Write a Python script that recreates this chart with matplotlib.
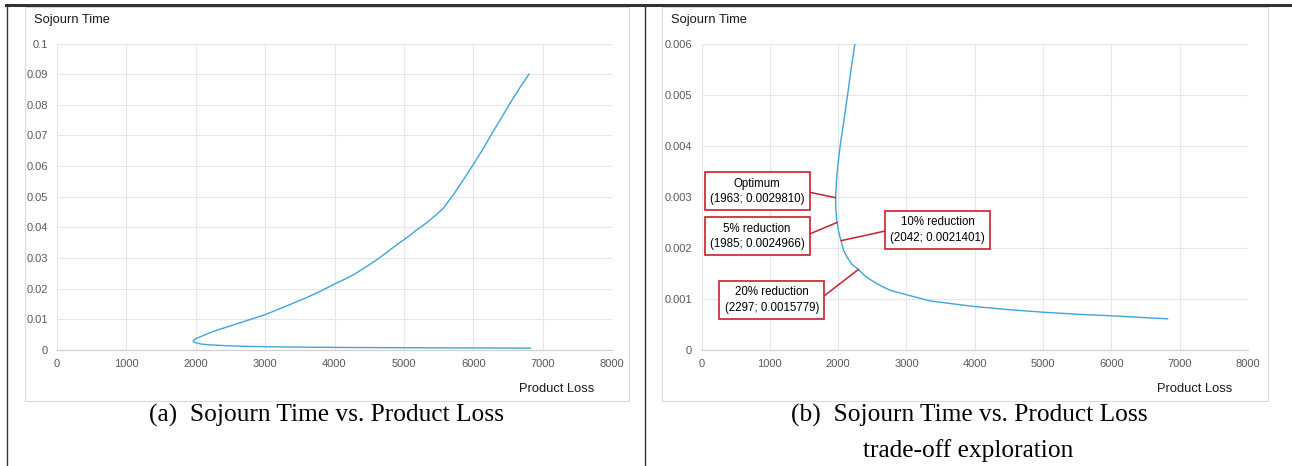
import matplotlib.pyplot as plt
from matplotlib.lines import Line2D
from matplotlib.patches import Rectangle

# curve, from the upper end, round the nose, to the lower end
product_loss = [6803, 6670, 6529, 6400, 6265, 6130, 5986, 5856, 5712, 5568, 5470, 5376,
                5280, 5184, 5088, 4896, 4750, 4608, 4440, 4271, 4130, 3997, 3800, 3599,
                3300, 3008, 2750, 2493, 2350, 2247, 2190, 2139, 2075, 2030, 1995, 1975,
                1963, 1967, 1978, 1985, 2010, 2042, 2080, 2125, 2200, 2297, 2400, 2516,
                2620, 2761, 3006, 3348, 3642, 4002, 4500, 4997, 5500, 5992, 6400, 6823]
sojourn_time = [0.0900, 0.0855, 0.0805, 0.0755, 0.0705, 0.0652, 0.0600, 0.0555, 0.0506,
                0.0462, 0.0442, 0.0424, 0.0407, 0.0392, 0.0374, 0.0343, 0.0318, 0.0294,
                0.0269, 0.0245, 0.0229, 0.0215, 0.0192, 0.0171, 0.0143, 0.0116, 0.0097,
                0.0078, 0.0068, 0.0060, 0.0055, 0.0050, 0.0044, 0.0040, 0.0036, 0.0033,
                0.0029810, 0.00275, 0.00256, 0.0024966, 0.0023, 0.0021401, 0.00195,
                0.00183, 0.00168, 0.0015779, 0.00144, 0.00134, 0.00126, 0.00117,
                0.00108, 0.00096, 0.00091, 0.00085, 0.00079, 0.00074, 0.00070, 0.00067,
                0.00064, 0.00061]

x_ticks = [0, 1000, 2000, 3000, 4000, 5000, 6000, 7000, 8000]
y_ticks_a = [0, 0.01, 0.02, 0.03, 0.04, 0.05, 0.06, 0.07, 0.08, 0.09, 0.1]
y_labels_a = ['0', '0.01', '0.02', '0.03', '0.04', '0.05', '0.06', '0.07', '0.08', '0.09', '0.1']
y_ticks_b = [0, 0.001, 0.002, 0.003, 0.004, 0.005, 0.006]
y_labels_b = ['0', '0.001', '0.002', '0.003', '0.004', '0.005', '0.006']

note_names = ['Optimum', '5% reduction', '10% reduction', '20% reduction']
note_x = [1963, 1985, 2042, 2297]
note_y = [0.0029810, 0.0024966, 0.0021401, 0.0015779]
# box centres (data units) and where the leader leaves the box
note_box = [(815, 0.00311), (815, 0.00223), (3455, 0.00235), (1028, 0.00098)]
note_rel = [(1, 0.5), (1, 0.5), (0, 0.5), (1, 0.5)]

W, H = 1292, 466
BLUE = '#3DA5DD'
RED = '#C8202C'
GRID = '#E6E6E6'
TICK = '#595959'

plt.rcParams['font.family'] = ['Liberation Sans', 'DejaVu Sans']

fig = plt.figure(figsize=(W / 100, H / 100), dpi=100)


def fx(px):
    return px / W


def fy(py):
    return 1 - py / H


# page frame lines and chart boxes
fig.add_artist(Line2D([fx(6), 1], [fy(5), fy(5)], color='#333333', lw=2.2))
fig.add_artist(Line2D([fx(7), fx(7)], [0, fy(5)], color='#333333', lw=1.0))
fig.add_artist(Line2D([fx(645), fx(645)], [0, fy(5)], color='#333333', lw=1.0))
for x0, x1 in [(25, 629), (662, 1268)]:
    fig.add_artist(Rectangle((fx(x0), fy(401)), fx(x1 - x0), (401 - 7) / H,
                             fill=False, ec='#DADADA', lw=0.8))


def style(ax, yt, yl, ymax):
    ax.set_xlim(0, 8000)
    ax.set_ylim(0, ymax)
    ax.set_xticks(x_ticks)
    ax.set_xticklabels([str(v) for v in x_ticks])
    ax.set_yticks(yt)
    ax.set_yticklabels(yl)
    ax.grid(True, color=GRID, lw=0.8)
    ax.set_axisbelow(True)
    for s in ['top', 'right', 'left']:
        ax.spines[s].set_visible(False)
    ax.spines['bottom'].set_color('#D0D0D0')
    ax.spines['bottom'].set_linewidth(0.9)
    ax.tick_params(length=0, labelsize=8, labelcolor=TICK)
    ax.tick_params(axis='x', pad=6.5)
    ax.tick_params(axis='y', pad=6.7)


ax_a = fig.add_axes([fx(57), fy(350), fx(612 - 57), (350 - 43.5) / H])
ax_a.plot(product_loss, sojourn_time, color=BLUE, lw=1.0)
style(ax_a, y_ticks_a, y_labels_a, 0.1)

ax_b = fig.add_axes([fx(701.5), fy(350), fx(1248 - 701.5), (350 - 43.5) / H])
ax_b.plot(product_loss, sojourn_time, color=BLUE, lw=1.0)
style(ax_b, y_ticks_b, y_labels_b, 0.006)

for name, x, y, box, rel in zip(note_names, note_x, note_y, note_box, note_rel):
    ax_b.annotate('%s\n(%d; %.7f)' % (name, x, y), xy=(x, y), xytext=box,
                  textcoords='data', ha='center', va='center', fontsize=8.3,
                  linespacing=1.35,
                  bbox=dict(boxstyle='square,pad=0.45', fc='white', ec=RED, lw=1.2),
                  arrowprops=dict(arrowstyle='-', color=RED, lw=1.1,
                                  shrinkA=0, shrinkB=0, relpos=rel))

# axis titles
fig.text(fx(34), fy(20), 'Sojourn Time', fontsize=9.3, va='center', ha='left', color='#1A1A1A')
fig.text(fx(671), fy(20), 'Sojourn Time', fontsize=9.3, va='center', ha='left', color='#1A1A1A')
fig.text(fx(594), fy(389), 'Product Loss', fontsize=9.3, va='center', ha='right', color='#1A1A1A')
fig.text(fx(1232), fy(389), 'Product Loss', fontsize=9.3, va='center', ha='right', color='#1A1A1A')

# captions
cap = dict(fontsize=18.3, family=['Liberation Serif', 'DejaVu Serif'], ha='center', va='center')
fig.text(fx(326), fy(415), '(a)  Sojourn Time vs. Product Loss', **cap)
fig.text(fx(969), fy(415), '(b)  Sojourn Time vs. Product Loss', **cap)
fig.text(fx(968), fy(451), 'trade-off exploration', **cap)

fig.savefig('out.png', dpi=100)
